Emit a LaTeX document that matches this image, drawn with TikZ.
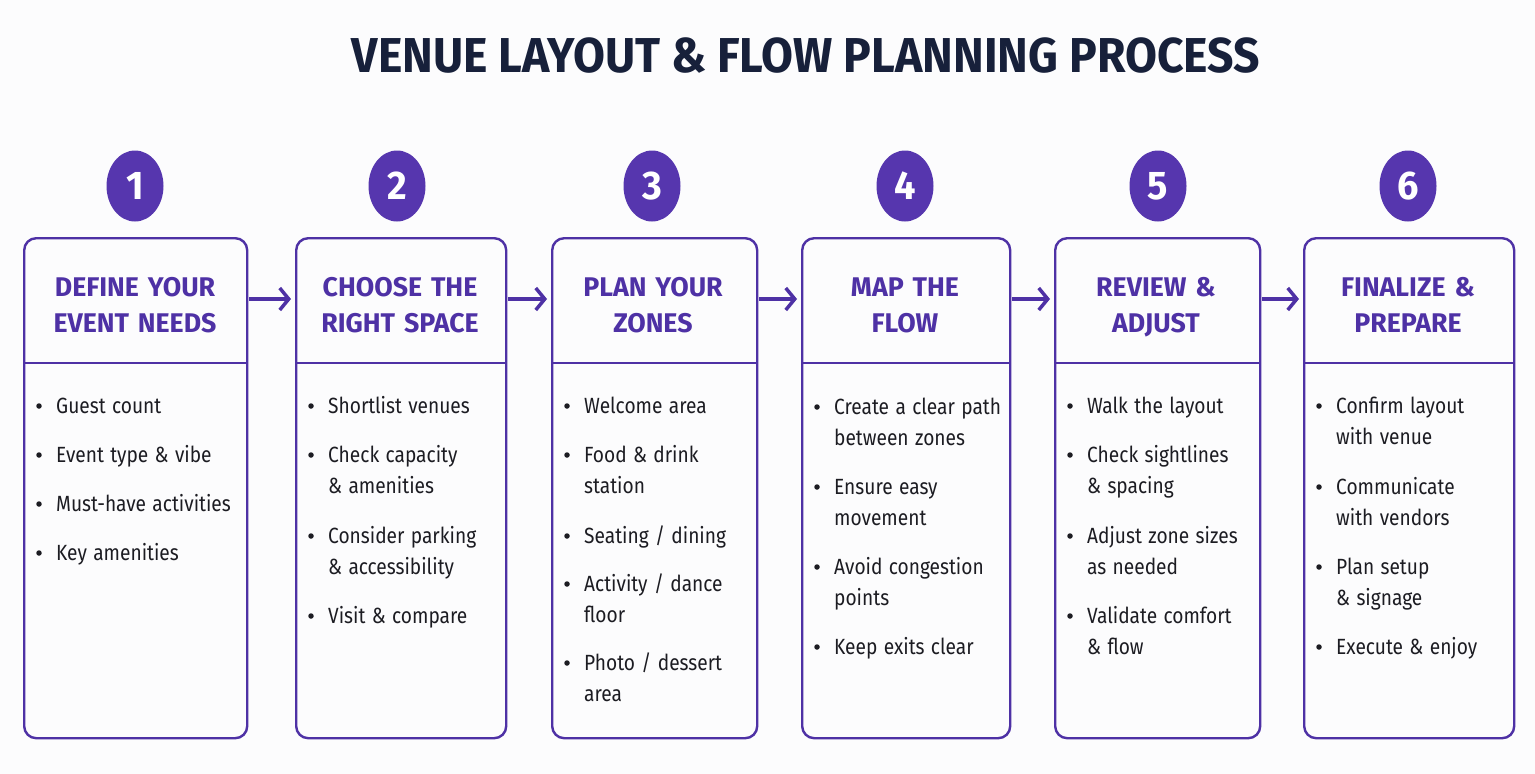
\documentclass[tikz,border=0pt]{standalone}
\usepackage{fontspec}
\setmainfont{Fira Sans}
\usetikzlibrary{shapes.geometric,arrows.meta}
\definecolor{purp}{HTML}{4E31A5}
\definecolor{circ}{HTML}{5636AE}
\definecolor{navy}{HTML}{17203A}
\definecolor{body}{HTML}{1C1C22}
\definecolor{bg}{HTML}{FCFCFD}
\tikzset{
  stepbox/.style={draw=purp, line width=2.4pt, rounded corners=12pt},
  numcirc/.style={ellipse, fill=circ, minimum width=60pt, minimum height=71pt, inner sep=0pt, text=white, font=\fontsize{40}{40}\selectfont\bfseries, xscale=0.95},
  head/.style={text=purp, font=\fontsize{27}{36}\selectfont\bfseries, text width=240pt, align=center, anchor=base, xscale=0.99, inner sep=0pt},
  itemtext/.style={text=body, font=\fontsize{22}{31.5}\selectfont, text width=240pt, align=left, anchor=base west, xscale=0.87, inner sep=0pt},
  dot/.style={circle, fill=body, inner sep=0pt, minimum size=5.5pt},
  flow/.style={draw=purp, line width=4pt, -{Straight Barb[length=9pt, width=22pt, line width=3.5pt]}},
  titletext/.style={text=navy, font=\fontsize{49}{49}\selectfont\bfseries, anchor=base, xscale=0.945, inner sep=0pt}
}
\newcommand\bitem[4]{%
  \node[dot] (#1d) at ({#2+16},{#3-7}) {};
  \node[itemtext] (#1) at ({#2+33},{#3}) {#4};
}
\begin{document}
\begin{tikzpicture}[x=1pt,y=-1pt]
\fill[bg] (0,0) rectangle (1535,774);
\useasboundingbox (0,0) rectangle (1535,774);
\node[titletext] (title) at (806,72) {VENUE LAYOUT \& FLOW PLANNING PROCESS};

% boxes
\node[stepbox, minimum width=223pt, minimum height=500pt, anchor=north west, inner sep=0pt] (box1) at (23,237) {};
\node[stepbox, minimum width=210pt, minimum height=500pt, anchor=north west, inner sep=0pt] (box2) at (295,237) {};
\node[stepbox, minimum width=205pt, minimum height=500pt, anchor=north west, inner sep=0pt] (box3) at (551,237) {};
\node[stepbox, minimum width=208pt, minimum height=500pt, anchor=north west, inner sep=0pt] (box4) at (801,237) {};
\node[stepbox, minimum width=205pt, minimum height=500pt, anchor=north west, inner sep=0pt] (box5) at (1054,237) {};
\node[stepbox, minimum width=210pt, minimum height=500pt, anchor=north west, inner sep=0pt] (box6) at (1303,237) {};
\foreach \b in {1,...,6}{
  \draw[purp, line width=2.4pt] ([yshift=-126pt]box\b.north west) coordinate (sl\b) -- ([yshift=-126pt]box\b.north east) coordinate (sr\b);
}

% number circles
\node[numcirc] (n1) at (135,186) {1};
\node[numcirc] (n2) at (397,186) {2};
\node[numcirc] (n3) at (652,186) {3};
\node[numcirc] (n4) at (905,186) {4};
\node[numcirc] (n5) at (1158,186) {5};
\node[numcirc] (n6) at (1408,186) {6};

% headers
\node[head] (h1) at (135,296) {DEFINE YOUR\\EVENT NEEDS};
\node[head] (h2) at (400,296) {CHOOSE THE\\RIGHT SPACE};
\node[head] (h3) at (653,296) {PLAN YOUR\\ZONES};
\node[head] (h4) at (905,296) {MAP THE\\FLOW};
\node[head] (h5) at (1156,296) {REVIEW \&\\ADJUST};
\node[head] (h6) at (1408,296) {FINALIZE \&\\PREPARE};

% arrows
\coordinate (a1s) at (249,299); \coordinate (a1e) at (291,299);
\coordinate (a2s) at (508,299); \coordinate (a2e) at (547,299);
\coordinate (a3s) at (759,299); \coordinate (a3e) at (797,299);
\coordinate (a4s) at (1012,299); \coordinate (a4e) at (1050,299);
\coordinate (a5s) at (1262,299); \coordinate (a5e) at (1299,299);
\foreach \i in {1,...,5}{ \draw[flow] (a\i s) -- (a\i e); }

% items box 1
\bitem{i11}{23}{413}{Guest count}
\bitem{i12}{23}{462}{Event type \& vibe}
\bitem{i13}{23}{511}{Must-have activities}
\bitem{i14}{23}{560}{Key amenities}
% box 2
\bitem{i21}{295}{413}{Shortlist venues}
\bitem{i22}{295}{462}{Check capacity\\\& amenities}
\bitem{i23}{295}{543}{Consider parking\\\& accessibility}
\bitem{i24}{295}{623}{Visit \& compare}
% box 3
\bitem{i31}{551}{413}{Welcome area}
\bitem{i32}{551}{462}{Food \& drink\\station}
\bitem{i33}{551}{543}{Seating / dining}
\bitem{i34}{551}{591}{Activity / dance\\floor}
\bitem{i35}{551}{670}{Photo / dessert\\area}
% box 4
\bitem{i41}{801}{414}{Create a clear path\\between zones}
\bitem{i42}{801}{494}{Ensure easy\\movement}
\bitem{i43}{801}{574}{Avoid congestion\\points}
\bitem{i44}{801}{654}{Keep exits clear}
% box 5
\bitem{i51}{1054}{413}{Walk the layout}
\bitem{i52}{1054}{462}{Check sightlines\\\& spacing}
\bitem{i53}{1054}{543}{Adjust zone sizes\\as needed}
\bitem{i54}{1054}{623}{Validate comfort\\\& flow}
% box 6
\bitem{i61}{1303}{413}{Confirm layout\\with venue}
\bitem{i62}{1303}{494}{Communicate\\with vendors}
\bitem{i63}{1303}{574}{Plan setup\\\& signage}
\bitem{i64}{1303}{654}{Execute \& enjoy}
\end{tikzpicture}
\end{document}
